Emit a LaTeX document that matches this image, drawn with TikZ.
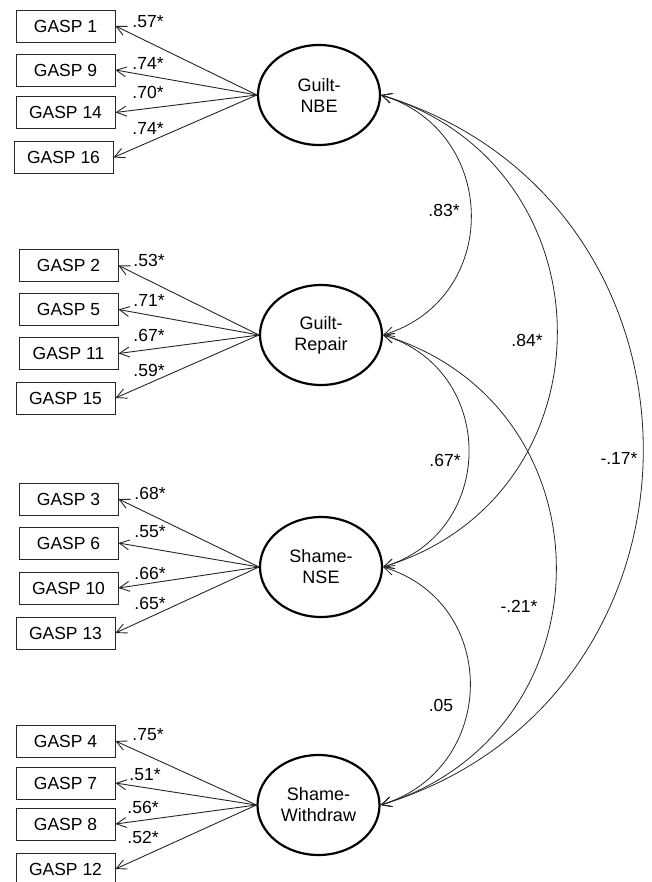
\documentclass[tikz,border=0pt]{standalone}
\usepackage{fontspec}
\setmainfont{Liberation Sans}
\usetikzlibrary{shapes.geometric,arrows.meta}

\begin{document}
\begin{tikzpicture}[x=1pt,y=1pt,
  item/.style={draw=black!85,line width=0.9pt,minimum width=99pt,minimum height=32pt,inner sep=0pt,font=\fontsize{17.5}{20}\selectfont},
  factor/.style={draw,ellipse,line width=2.2pt,minimum width=122pt,minimum height=100pt,inner sep=0pt,align=center,font=\fontsize{18}{21}\selectfont},
  coef/.style={inner sep=0pt,font=\fontsize{17.5}{20}\selectfont},
  load/.style={->,line width=0.9pt,draw=black!85},
  cov/.style={<->,line width=0.8pt,draw=black!85},
  >={Straight Barb[length=10pt,width=10pt]}]

\useasboundingbox (0,0) rectangle (651,-882);

\node[factor] (nbe) at (319,-95) {Guilt-\\NBE};
\node[factor] (repair) at (321,-335) {Guilt-\\Repair};
\node[factor] (nse) at (321,-567) {Shame-\\NSE};
\node[factor] (withdraw) at (318.5,-805) {Shame-\\Withdraw};

\node[item] (g1) at (65.5,-26) {GASP 1};
\node[item] (g9) at (65.5,-70) {GASP 9};
\node[item] (g14) at (65.5,-112.5) {GASP 14};
\node[item] (g16) at (63.5,-157.5) {GASP 16};

\node[item] (g2) at (68.5,-265.5) {GASP 2};
\node[item] (g5) at (68.5,-309.5) {GASP 5};
\node[item] (g11) at (68.5,-353.5) {GASP 11};
\node[item] (g15) at (65.5,-398) {GASP 15};

\node[item] (g3) at (68.5,-499) {GASP 3};
\node[item] (g6) at (68.5,-543) {GASP 6};
\node[item] (g10) at (68.5,-588) {GASP 10};
\node[item] (g13) at (65.5,-633) {GASP 13};

\node[item] (g4) at (65.5,-741) {GASP 4};
\node[item] (g7) at (65.5,-783) {GASP 7};
\node[item] (g8) at (65.5,-824) {GASP 8};
\node[item] (g12) at (65.5,-869) {GASP 12};

\draw[load] (nbe.west) -- (g1.east);
\draw[load] (nbe.west) -- (g9.east);
\draw[load] (nbe.west) -- (g14.east);
\draw[load] (nbe.west) -- (g16.east);
\node[coef] (c1) at (148,-22) {.57*};
\node[coef] (c9) at (148,-63) {.74*};
\node[coef] (c14) at (148,-92) {.70*};
\node[coef] (c16) at (148,-128) {.74*};

\draw[load] (repair.west) -- (g2.east);
\draw[load] (repair.west) -- (g5.east);
\draw[load] (repair.west) -- (g11.east);
\draw[load] (repair.west) -- (g15.east);
\node[coef] (c2) at (149,-260) {.53*};
\node[coef] (c5) at (149,-300) {.71*};
\node[coef] (c11) at (149,-335) {.67*};
\node[coef] (c15) at (149,-370) {.59*};

\draw[load] (nse.west) -- (g3.east);
\draw[load] (nse.west) -- (g6.east);
\draw[load] (nse.west) -- (g10.east);
\draw[load] (nse.west) -- (g13.east);
\node[coef] (c3) at (150,-493) {.68*};
\node[coef] (c6) at (150,-532) {.55*};
\node[coef] (c10) at (150,-573) {.66*};
\node[coef] (c13) at (150,-603) {.65*};

\draw[load] (withdraw.west) -- (g4.east);
\draw[load] (withdraw.west) -- (g7.east);
\draw[load] (withdraw.west) -- (g8.east);
\draw[load] (withdraw.west) -- (g12.east);
\node[coef] (c4) at (148,-735) {.75*};
\node[coef] (c7) at (145,-775) {.51*};
\node[coef] (c8) at (143,-807) {.56*};
\node[coef] (c12) at (143,-837) {.52*};

\draw[cov] (nbe.east) to[out=-17,in=17,looseness=1.32] (repair.east);
\draw[cov] (nbe.east) to[out=-17,in=17,looseness=1.32] (nse.east);
\draw[cov] (nbe.east) to[out=-17,in=17,looseness=1.32] (withdraw.east);
\draw[cov] (repair.east) to[out=-17,in=17,looseness=1.32] (nse.east);
\draw[cov] (repair.east) to[out=-17,in=17,looseness=1.32] (withdraw.east);
\draw[cov] (nse.east) to[out=-17,in=17,looseness=1.32] (withdraw.east);
\node[coef] (r1) at (444,-210) {.83*};
\node[coef] (r2) at (527,-340) {.84*};
\node[coef] (r3) at (619,-458) {-.17*};
\node[coef] (r4) at (445,-460) {.67*};
\node[coef] (r5) at (519,-606) {-.21*};
\node[coef] (r6) at (441,-705) {.05};
\end{tikzpicture}
\end{document}
